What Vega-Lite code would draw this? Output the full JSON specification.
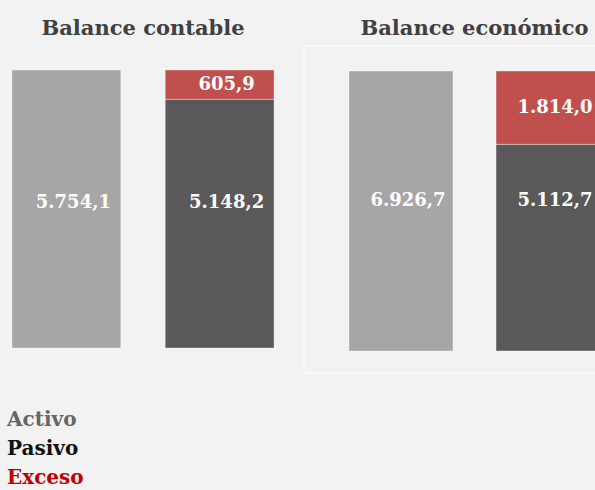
{
  "$schema": "https://vega.github.io/schema/vega-lite/v6.json",
  "background": "#f2f2f2",
  "padding": {"left": 0, "top": 17, "right": 0, "bottom": 0},
  "config": {
    "locale": {"number": {"decimal": ",", "thousands": ".", "grouping": [3], "currency": ["", " €"]}},
    "view": {"stroke": null},
    "font": "DejaVu Serif",
    "title": {"font": "DejaVu Serif", "fontSize": 21, "fontWeight": "bold", "color": "#404040", "anchor": "middle", "offset": 7}
  },
  "data": {
    "values": [
      {"panel": "Balance contable", "bar": "Activo", "series": "Activo", "value": 5754.1},
      {"panel": "Balance contable", "bar": "Pasivo", "series": "Pasivo", "value": 5148.2},
      {"panel": "Balance contable", "bar": "Pasivo", "series": "Exceso", "value": 605.9},
      {"panel": "Balance económico", "bar": "Activo", "series": "Activo", "value": 6926.7},
      {"panel": "Balance económico", "bar": "Pasivo", "series": "Pasivo", "value": 5112.7},
      {"panel": "Balance económico", "bar": "Pasivo", "series": "Exceso", "value": 1814.0}
    ]
  },
  "spacing": 31,
  "resolve": {"scale": {"color": "independent"}},
  "vconcat": [
    {
      "spacing": 17,
      "hconcat": [
        {
          "title": "Balance contable",
          "width": 286,
          "height": 327,
          "transform": [
            {"filter": "datum.panel == 'Balance contable'"},
            {"stack": "value", "groupby": ["bar"], "sort": [{"field": "series", "order": "descending"}], "offset": "normalize", "as": ["y0", "y1"]},
            {"calculate": "datum.series == 'Exceso' ? (datum.y0 + datum.y1) / 2 : 0.52", "as": "ly"}
          ],
          "encoding": {
            "x": {"field": "bar", "type": "nominal", "sort": ["Activo", "Pasivo"], "scale": {"paddingInner": 0.29, "paddingOuter": 0.078}, "axis": null}
          },
          "layer": [
            {
              "mark": {"type": "bar", "stroke": "#ffffff", "strokeOpacity": 0.35, "strokeWidth": 1},
              "encoding": {
                "y": {"field": "y1", "type": "quantitative", "scale": {"domain": [-0.0899, 1.0863], "nice": false, "zero": false}, "axis": null},
                "y2": {"field": "y0"},
                "color": {"field": "series", "type": "nominal", "scale": {"domain": ["Activo", "Pasivo", "Exceso"], "range": ["#a6a6a6", "#595959", "#c0504d"]}, "legend": null}
              }
            },
            {
              "mark": {"type": "text", "color": "#ffffff", "fontSize": 18, "fontWeight": "bold", "font": "DejaVu Serif", "align": "center", "baseline": "middle", "dx": 7},
              "encoding": {
                "y": {"field": "ly", "type": "quantitative", "scale": {"domain": [-0.0899, 1.0863], "nice": false, "zero": false}, "axis": null},
                "text": {"field": "value", "type": "quantitative", "format": ",.1f"}
              }
            }
          ]
        },
        {
          "title": "Balance económico",
          "width": 341,
          "height": 327,
          "view": {"stroke": "#fafafa", "strokeWidth": 1.5},
          "transform": [
            {"filter": "datum.panel == 'Balance económico'"},
            {"stack": "value", "groupby": ["bar"], "sort": [{"field": "series", "order": "descending"}], "offset": "normalize", "as": ["y0", "y1"]},
            {"calculate": "datum.series == 'Exceso' ? (datum.y0 + datum.y1) / 2 : 0.535", "as": "ly"}
          ],
          "encoding": {
            "x": {"field": "bar", "type": "nominal", "sort": ["Activo", "Pasivo"], "scale": {"paddingInner": 0.293, "paddingOuter": 0.306}, "axis": null}
          },
          "layer": [
            {
              "mark": {"type": "bar", "stroke": "#ffffff", "strokeOpacity": 0.35, "strokeWidth": 1},
              "encoding": {
                "y": {"field": "y1", "type": "quantitative", "scale": {"domain": [-0.0786, 1.0893], "nice": false, "zero": false}, "axis": null},
                "y2": {"field": "y0"},
                "color": {"field": "series", "type": "nominal", "scale": {"domain": ["Activo", "Pasivo", "Exceso"], "range": ["#a6a6a6", "#595959", "#c0504d"]}, "legend": null}
              }
            },
            {
              "mark": {"type": "text", "color": "#ffffff", "fontSize": 18, "fontWeight": "bold", "font": "DejaVu Serif", "align": "center", "baseline": "middle", "dx": 7},
              "encoding": {
                "y": {"field": "ly", "type": "quantitative", "scale": {"domain": [-0.0786, 1.0893], "nice": false, "zero": false}, "axis": null},
                "text": {"field": "value", "type": "quantitative", "format": ",.1f"}
              }
            }
          ]
        }
      ]
    },
    {
      "width": 120,
      "height": 88,
      "transform": [
        {"aggregate": [{"op": "count", "as": "n"}], "groupby": ["series"]}
      ],
      "mark": {"type": "text", "align": "left", "baseline": "middle", "fontSize": 20, "fontWeight": "bold", "font": "DejaVu Serif", "dx": 7},
      "encoding": {
        "x": {"value": 0},
        "y": {"field": "series", "type": "nominal", "sort": ["Activo", "Pasivo", "Exceso"], "scale": {"paddingInner": 0, "paddingOuter": 0}, "axis": null},
        "text": {"field": "series", "type": "nominal"},
        "color": {"field": "series", "type": "nominal", "scale": {"domain": ["Activo", "Pasivo", "Exceso"], "range": ["#666666", "#111111", "#c00000"]}, "legend": null}
      }
    }
  ]
}
